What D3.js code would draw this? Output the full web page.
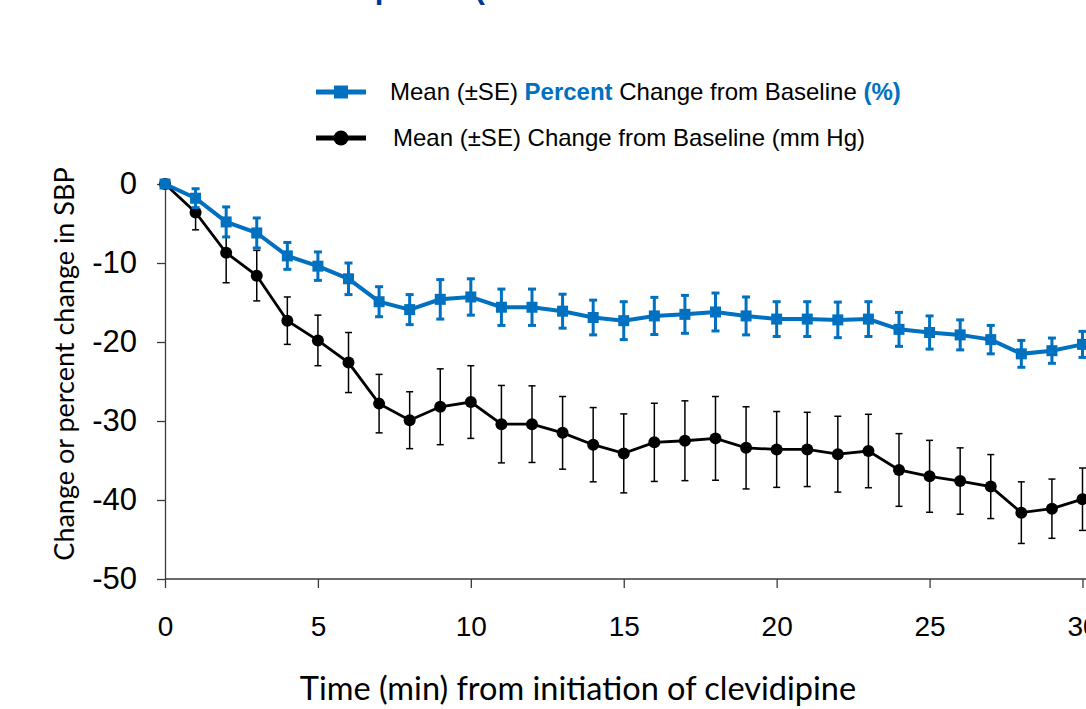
<!DOCTYPE html>
<html>
<head>
<meta charset="utf-8">
<script src="https://cdn.jsdelivr.net/npm/d3@7"></script>
<style>
  html, body { margin: 0; padding: 0; background: #ffffff; overflow: hidden; }
  svg { display: block; }
</style>
</head>
<body>
<svg id="chart" width="1086" height="709"></svg>
<script>
// ---- data ----
const minutes = [0,1,2,3,4,5,6,7,8,9,10,11,12,13,14,15,16,17,18,19,20,21,22,23,24,25,26,27,28,29,30];
const pctMean = [0,-1.8,-4.8,-6.2,-9.1,-10.4,-12.0,-14.9,-15.9,-14.6,-14.3,-15.6,-15.6,-16.1,-16.9,-17.3,-16.7,-16.5,-16.2,-16.7,-17.1,-17.1,-17.2,-17.1,-18.4,-18.8,-19.1,-19.7,-21.5,-21.1,-20.3];
const pctSE   = [0,1.2,1.9,1.9,1.7,1.8,2.0,1.9,1.9,2.5,2.3,2.3,2.3,2.15,2.2,2.4,2.35,2.4,2.4,2.4,2.2,2.2,2.25,2.2,2.15,2.1,1.9,1.8,1.7,1.6,1.65];
const mmMean  = [0,-3.6,-8.7,-11.6,-17.3,-19.8,-22.6,-27.8,-29.9,-28.2,-27.6,-30.4,-30.4,-31.5,-33.0,-34.1,-32.7,-32.5,-32.2,-33.4,-33.6,-33.6,-34.2,-33.8,-36.2,-37.0,-37.6,-38.3,-41.6,-41.1,-39.9];
const mmSE    = [0,2.2,3.8,3.2,3.0,3.2,3.8,3.7,3.6,4.8,4.6,4.9,4.85,4.6,4.7,5.0,4.95,5.05,5.3,5.2,4.8,4.7,4.8,4.65,4.6,4.55,4.2,4.05,3.9,3.75,3.95];
const xTicks = [0,5,10,15,20,25,30];
const yTicks = [0,-10,-20,-30,-40,-50];
const titleText = "SBP Response (ESCAPE-1 and ESCAPE-2 Trial Results Overview)";
const xLabel = "Time (min) from initiation of clevidipine";
const yLabel = "Change or percent change in SBP";

// ---- layout ----
const svg = d3.select("#chart");
const BLUE = "#0070C0";
const x = d3.scaleLinear().domain([0, 30]).range([165, 1082.5]);
const y = d3.scaleLinear().domain([-50, 0]).range([579, 184]);

// cut-off title at the very top (only its descenders show, as in the reference)
svg.append("text")
  .attr("x", 246).attr("y", -2)
  .attr("font-family", "Liberation Sans, Arial, sans-serif")
  .attr("font-weight", "bold").attr("font-size", 31)
  .attr("fill", "#0033A0")
  .text(titleText);

// axes
const fmt = d => String(d);
const yAxis = d3.axisLeft(y).tickValues(yTicks).tickSize(8).tickSizeOuter(0).tickPadding(20).tickFormat(fmt);
const gy = svg.append("g").attr("transform", `translate(${x(0)},0)`).call(yAxis);
const xAxis = d3.axisBottom(x).tickValues(xTicks).tickSize(9).tickSizeOuter(0).tickPadding(28).tickFormat(fmt);
const gx = svg.append("g").attr("transform", `translate(0,${y(-50)})`).call(xAxis);
gx.select(".domain").attr("d", `M${x(0)},0H1090`);

[gx, gy].forEach(g => {
  g.selectAll("path, line").attr("stroke", "#3a3a3a").attr("stroke-width", 1.3);
  g.selectAll("text").attr("font-family", "Liberation Sans, Arial, sans-serif").attr("fill", "#000");
});
gy.selectAll("text").attr("font-size", 31);
gx.selectAll("text").attr("font-size", 28);

// axis titles
svg.append("text")
  .attr("x", 578).attr("y", 700).attr("text-anchor", "middle")
  .attr("font-family", "Lato, sans-serif").attr("font-size", 32.5).attr("fill", "#000")
  .text(xLabel);
svg.append("text")
  .attr("transform", "translate(63,364) rotate(-90)")
  .attr("text-anchor", "middle").attr("dominant-baseline", "central")
  .attr("font-family", "Lato, sans-serif").attr("font-size", 27).attr("fill", "#000")
  .text(yLabel);

// ---- series ----
const mmData = minutes.map((m, i) => ({m, v: mmMean[i], se: mmSE[i]}));
const pctData = minutes.map((m, i) => ({m, v: pctMean[i], se: pctSE[i]}));
const line = d3.line().x(d => x(d.m)).y(d => y(d.v));

// mm Hg (black)
const gMm = svg.append("g");
const mmErr = gMm.selectAll("g.err").data(mmData.filter(d => d.se > 0)).join("g").attr("class", "err");
mmErr.append("line").attr("x1", d => x(d.m)).attr("x2", d => x(d.m))
  .attr("y1", d => y(d.v + d.se)).attr("y2", d => y(d.v - d.se))
  .attr("stroke", "#000").attr("stroke-width", 1.5);
mmErr.selectAll("line.cap").data(d => [d.v + d.se, d.v - d.se].map(v => ({m: d.m, v})))
  .join("line").attr("class", "cap")
  .attr("x1", d => x(d.m) - 3.5).attr("x2", d => x(d.m) + 3.5)
  .attr("y1", d => y(d.v)).attr("y2", d => y(d.v))
  .attr("stroke", "#000").attr("stroke-width", 1.5);
gMm.append("path").datum(mmData).attr("d", line)
  .attr("fill", "none").attr("stroke", "#000").attr("stroke-width", 2.8);
gMm.selectAll("circle").data(mmData).join("circle")
  .attr("cx", d => x(d.m)).attr("cy", d => y(d.v)).attr("r", 6).attr("fill", "#000");

// percent (blue)
const gPct = svg.append("g");
const pErr = gPct.selectAll("g.err").data(pctData.filter(d => d.se > 0)).join("g").attr("class", "err");
pErr.append("line").attr("x1", d => x(d.m)).attr("x2", d => x(d.m))
  .attr("y1", d => y(d.v + d.se)).attr("y2", d => y(d.v - d.se))
  .attr("stroke", BLUE).attr("stroke-width", 3);
pErr.selectAll("line.cap").data(d => [d.v + d.se, d.v - d.se].map(v => ({m: d.m, v})))
  .join("line").attr("class", "cap")
  .attr("x1", d => x(d.m) - 4).attr("x2", d => x(d.m) + 4)
  .attr("y1", d => y(d.v)).attr("y2", d => y(d.v))
  .attr("stroke", BLUE).attr("stroke-width", 3);
gPct.append("path").datum(pctData).attr("d", line)
  .attr("fill", "none").attr("stroke", BLUE).attr("stroke-width", 4);
gPct.selectAll("rect").data(pctData).join("rect")
  .attr("x", d => x(d.m) - 5.5).attr("y", d => y(d.v) - 5.5)
  .attr("width", 11).attr("height", 11).attr("fill", BLUE);

// ---- legend ----
const lg = svg.append("g");
lg.append("line").attr("x1", 316).attr("x2", 366).attr("y1", 92).attr("y2", 92)
  .attr("stroke", BLUE).attr("stroke-width", 5);
lg.append("rect").attr("x", 334).attr("y", 85.5).attr("width", 14).attr("height", 13).attr("fill", BLUE);
lg.append("line").attr("x1", 316).attr("x2", 366).attr("y1", 138).attr("y2", 138)
  .attr("stroke", "#000").attr("stroke-width", 5);
lg.append("circle").attr("cx", 341).attr("cy", 138).attr("r", 7.5).attr("fill", "#000");

const t1 = lg.append("text").attr("x", 390).attr("y", 100)
  .attr("font-family", "Liberation Sans, Arial, sans-serif").attr("font-size", 24).attr("fill", "#000");
t1.append("tspan").text("Mean (\u00B1SE) ");
t1.append("tspan").attr("font-weight", "bold").attr("fill", BLUE).text("Percent");
t1.append("tspan").text(" Change from Baseline ");
t1.append("tspan").attr("font-weight", "bold").attr("fill", BLUE).text("(%)");
lg.append("text").attr("x", 393).attr("y", 146)
  .attr("font-family", "Liberation Sans, Arial, sans-serif").attr("font-size", 24).attr("fill", "#000")
  .text("Mean (\u00B1SE) Change from Baseline (mm Hg)");
</script>
</body>
</html>
